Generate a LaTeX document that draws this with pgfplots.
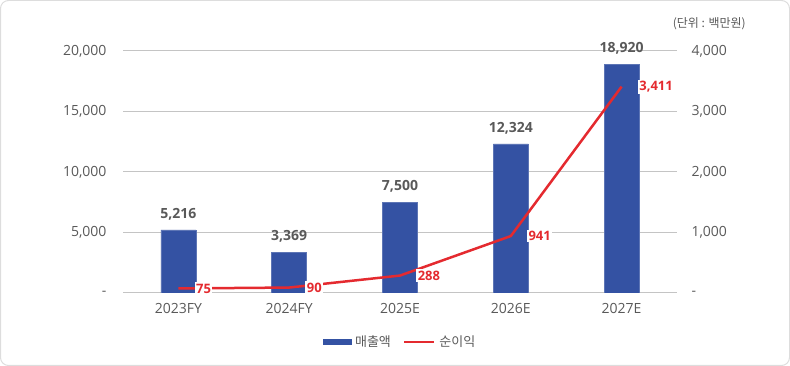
\documentclass[border=0pt]{standalone}
\usepackage{pgfplots}
\pgfplotsset{compat=1.18}
\usepackage{fontspec}
\setmainfont{Open Sans}
\newfontfamily\kr{Noto Sans CJK KR}
\definecolor{barblue}{HTML}{3452A3}
\definecolor{linered}{HTML}{E42A2F}
\definecolor{txtgray}{HTML}{595959}
\definecolor{gridgray}{HTML}{C4C4C4}
\definecolor{framegray}{HTML}{DDDDDD}
\pgfplotsset{
  base/.style={
    at={(123pt,73pt)}, anchor=south west,
    scale only axis, width=554pt, height=242pt,
    xmin=-0.5, xmax=4.5,
    axis line style={draw=none}, major tick length=0pt,
    scaled y ticks=false,
    tick label style={font=\fontsize{14}{17}\selectfont, text=txtgray},
  }
}
\begin{document}
\begin{tikzpicture}[x=1pt,y=1pt]
\draw[framegray, line width=1pt, rounded corners=8pt] (0.5,0.5) rectangle (789.5,365.5);
\node[anchor=east, font=\kr\fontsize{12}{14}\selectfont, text=txtgray, inner sep=0pt] at (746,342) {(단위 : 백만원)};
\begin{axis}[base,
  ymin=0, ymax=20000,
  ytick={0,5000,10000,15000,20000},
  yticklabels={-,{5,000},{10,000},{15,000},{20,000}},
  yticklabel style={xshift=-13pt},
  xtick={0,1,2,3,4},
  xticklabels={2023FY,2024FY,2025E,2026E,2027E},
  xticklabel style={yshift=-7pt},
  ymajorgrids, grid style={gridgray, line width=1pt},
]
\addplot[ybar, bar width=35pt, fill=barblue, draw=barblue!80!white, line width=0.6pt,
  point meta=explicit symbolic, nodes near coords,
  nodes near coords style={font=\bfseries\fontsize{14}{16}\selectfont, text=txtgray, yshift=6pt}]
  coordinates {(0,5216) [{5,216}] (1,3369) [{3,369}] (2,7500) [{7,500}] (3,12324) [{12,324}] (4,18920) [{18,920}]};
\end{axis}
\begin{axis}[base,
  ymin=0, ymax=4000,
  ytick={0,1000,2000,3000,4000},
  yticklabels={-,{1,000},{2,000},{3,000},{4,000}},
  yticklabel pos=right,
  yticklabel style={xshift=11pt},
  xtick=\empty,
  legend style={at={(0.5,-0.2025)}, anchor=center, draw=none, fill=none,
    legend columns=2, font=\kr\fontsize{13}{15}\selectfont, text=txtgray,
    /tikz/every even column/.append style={column sep=10pt},
    /tikz/every odd column/.append style={column sep=2pt}},
]
\addlegendimage{legend image code/.code={\fill[barblue] (0pt,-2.5pt) rectangle (28pt,2.5pt);}}
\addlegendentry{매출액}
\addplot[linered, line width=2.5pt, mark=none,
  point meta=explicit symbolic, nodes near coords,
  nodes near coords style={anchor=west, xshift=15pt, fill=white, inner sep=1.5pt,
    font=\bfseries\fontsize{13}{15}\selectfont, text=linered},
  legend image code/.code={\draw[linered, line width=2.5pt] (0pt,0pt) -- (30pt,0pt);}]
  coordinates {(0,75) [75] (1,90) [90] (2,288) [288] (3,941) [941] (4,3411) [{3,411}]};
\addlegendentry{순이익}
\end{axis}
\end{tikzpicture}
\end{document}
